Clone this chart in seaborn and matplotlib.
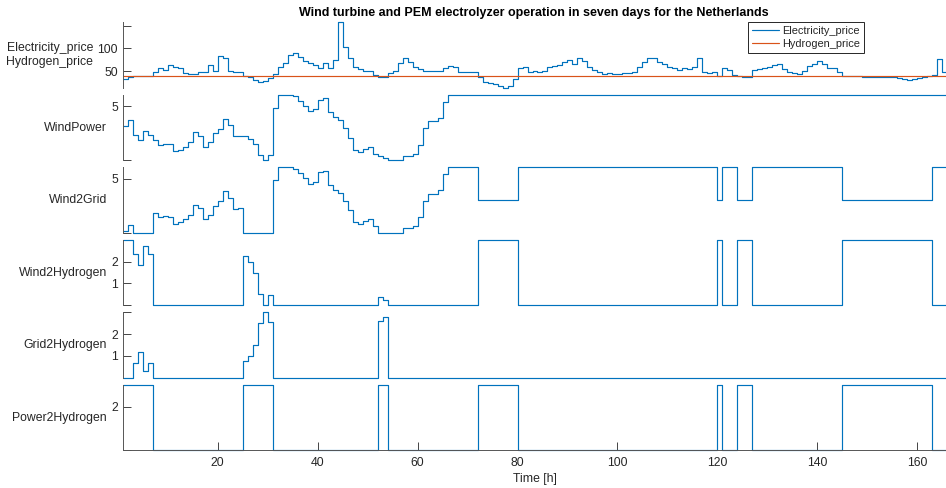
import seaborn as sns
import matplotlib.pyplot as plt
import pandas as pd

hours = list(range(1, 167))

electricity_price = [31.6, 36.7, 38.9, 38.9, 38.9, 38.9, 48.5, 55.9, 52.2, 63.2,
                     58.1, 55.9, 44.8, 43.4, 43.4, 48.5, 48.5, 63.2, 50.0, 83.8,
                     79.4, 50.0, 48.5, 48.5, 39.0, 36.0, 30.1, 26.4, 27.9, 35.3,
                     42.6, 59.5, 68.4, 85.3, 88.9, 81.6, 72.0, 68.4, 63.2, 55.9,
                     66.9, 55.9, 74.2, 157.3, 102.2, 79.4, 59.5, 53.6, 50.0, 50.0,
                     41.1, 37.5, 37.5, 44.8, 50.0, 68.4, 79.4, 70.6, 58.1, 53.6,
                     50.0, 50.0, 50.0, 50.0, 55.9, 61.7, 59.5, 48.5, 47.0, 47.0,
                     47.0, 36.0, 26.4, 22.8, 20.6, 16.9, 13.2, 17.6, 33.0, 55.9,
                     59.5, 48.5, 50.0, 47.0, 50.0, 59.5, 61.7, 63.2, 69.1, 74.2,
                     64.7, 77.9, 72.0, 58.1, 52.2, 47.0, 42.6, 44.8, 43.4, 42.6,
                     44.8, 44.8, 48.5, 59.5, 70.6, 79.4, 77.9, 70.6, 64.7, 59.5,
                     55.9, 52.2, 55.9, 54.4, 58.1, 77.9, 48.5, 46.3, 48.5, 38.5,
                     57.3, 52.2, 41.1, 38.5, 37.5, 37.5, 52.2, 54.4, 55.9, 59.5,
                     63.2, 64.7, 54.4, 48.5, 44.8, 42.6, 50.0, 61.7, 64.7, 72.8,
                     64.7, 57.3, 57.3, 48.5, 38.3, 38.3, 38.3, 38.3, 37.5, 37.5,
                     37.5, 37.5, 37.5, 37.5, 37.5, 35.3, 32.3, 29.4, 31.6, 35.3,
                     37.5, 38.5, 40.5, 75.7, 48.5, 48.5]
hydrogen_price = [39.7] * 166

wind_power = [3.13, 3.68, 2.33, 1.84, 2.70, 2.33, 1.84, 1.44, 1.53, 1.47,
              0.83, 0.98, 1.23, 1.69, 2.61, 2.27, 1.23, 1.69, 2.52, 2.91,
              3.83, 3.22, 2.21, 2.27, 2.24, 2.00, 1.50, 0.50, 0.00, 0.46,
              4.85, 6.05, 6.05, 6.05, 5.92, 5.52, 5.06, 4.54, 4.72, 5.61,
              5.73, 4.45, 3.99, 3.68, 2.98, 2.06, 0.98, 0.77, 1.07, 1.23,
              0.61, 0.40, 0.22, 0.00, 0.00, 0.00, 0.40, 0.40, 0.61, 1.44,
              2.98, 3.59, 3.59, 3.93, 5.43] + [6.05] * 101

wind2grid = [0.13, 0.68, 0.0, 0.0, 0.0, 0.0, 1.84, 1.44, 1.53, 1.47,
             0.83, 0.98, 1.23, 1.69, 2.61, 2.27, 1.23, 1.69, 2.52, 2.91,
             3.83, 3.22, 2.21, 2.27, 0.0, 0.0, 0.0, 0.0, 0.0, 0.0,
             4.85, 6.05, 6.05, 6.05, 5.92, 5.52, 5.06, 4.54, 4.72, 5.61,
             5.73, 4.45, 3.99, 3.68, 2.98, 2.06, 0.98, 0.77, 1.07, 1.23,
             0.61, 0.0, 0.0, 0.0, 0.0, 0.0, 0.40, 0.40, 0.61, 1.44,
             2.98, 3.59, 3.59, 3.93, 5.43, 6.05, 6.05, 6.05, 6.05, 6.05,
             6.05] + [3.05] * 8 + [6.05] * 40 + [3.05] + [6.05] * 3 + [3.05] * 3 \
            + [6.05] * 18 + [3.05] * 18 + [6.05] * 4

wind2hydrogen = [3.0, 3.0, 2.33, 1.84, 2.70, 2.33] + [0.0] * 18 \
                + [2.24, 2.00, 1.50, 0.50, 0.00, 0.46] + [0.0] * 21 + [0.40, 0.22] \
                + [0.0] * 18 + [3.0] * 8 + [0.0] * 40 + [3.0] + [0.0] * 3 + [3.0] * 3 \
                + [0.0] * 18 + [3.0] * 18 + [0.0] * 4

grid2hydrogen = [0.0, 0.0, 0.67, 1.16, 0.30, 0.67] + [0.0] * 18 \
                + [0.76, 1.00, 1.50, 2.50, 3.00, 2.54] + [0.0] * 21 + [2.60, 2.78] \
                + [0.0] * 113

power2hydrogen = [3.0] * 6 + [0.0] * 18 + [3.0] * 6 + [0.0] * 21 + [3.0] * 2 \
                 + [0.0] * 18 + [3.0] * 8 + [0.0] * 40 + [3.0] + [0.0] * 3 + [3.0] * 3 \
                 + [0.0] * 18 + [3.0] * 18 + [0.0] * 4

df = pd.DataFrame({"hour": hours, "Electricity_price": electricity_price,
                   "Hydrogen_price": hydrogen_price, "WindPower": wind_power,
                   "Wind2Grid": wind2grid, "Wind2Hydrogen": wind2hydrogen,
                   "Grid2Hydrogen": grid2hydrogen, "Power2Hydrogen": power2hydrogen})

blue = "#0072BD"
red = "#D95319"
dark = "#262626"

sns.set_style("ticks")
plt.rcParams["font.family"] = ["Liberation Sans", "DejaVu Sans"]
plt.rcParams["font.size"] = 8.8

fig = plt.figure(figsize=(9.46, 4.88), dpi=100)
W, H = 946, 488
left = 122.7 / W
width = (947.3 - 122.7) / W
panel_h = 65.5
axes = []
for i in range(6):
    top = 22.3 + 72.5 * i
    axes.append(fig.add_axes([left, 1 - (top + panel_h) / H, width, panel_h / H]))

# (column, label, yticks, yticklabels)
panels = [
    ("Electricity_price", "Electricity_price\nHydrogen_price", [50, 100, 150], ["50", "100", ""]),
    ("WindPower", "WindPower", [0, 5], ["", "5"]),
    ("Wind2Grid", "Wind2Grid", [0, 5], ["", "5"]),
    ("Wind2Hydrogen", "Wind2Hydrogen", [0, 1, 2, 3], ["", "1", "2", ""]),
    ("Grid2Hydrogen", "Grid2Hydrogen", [0, 1, 2, 3], ["", "1", "2", ""]),
    ("Power2Hydrogen", "Power2Hydrogen", [0, 2, 3], ["", "2", ""]),
]

lw = 0.85
for ax, (col, label, yt, ytl) in zip(axes, panels):
    if col == "Electricity_price":
        sns.lineplot(data=df, x="hour", y=col, ax=ax, drawstyle="steps-post",
                     color=blue, linewidth=lw, label="Electricity_price", clip_on=False)
        sns.lineplot(data=df, x="hour", y="Hydrogen_price", ax=ax, drawstyle="steps-post",
                     color=red, linewidth=lw, label="Hydrogen_price", clip_on=False)
        ax.set_ylim(min(electricity_price), max(electricity_price))
        leg = ax.legend(loc="upper left", bbox_to_anchor=(747.7 / W, 1 - 21.7 / H),
                        bbox_transform=fig.transFigure, borderaxespad=0, fontsize=7.9,
                        frameon=True, fancybox=False, framealpha=1, handlelength=2.5,
                        handletextpad=0.3, labelspacing=0.3, borderpad=0.35)
        leg.get_frame().set_edgecolor(dark)
        leg.get_frame().set_linewidth(0.7)
    else:
        sns.lineplot(data=df, x="hour", y=col, ax=ax, drawstyle="steps-post",
                     color=blue, linewidth=lw, clip_on=False)
        ax.set_ylim(min(df[col]), max(df[col]))
    ax.set_xlim(1, 166)
    ax.set_yticks(yt)
    ax.set_yticklabels(ytl)
    ax.set_ylabel(label, rotation=0, ha="right", va="center", labelpad=3, color=dark)
    ax.tick_params(axis="y", direction="in", length=6, width=0.6, color=dark,
                   labelcolor=dark, pad=3.5)
    for s in ["top", "right", "bottom"]:
        ax.spines[s].set_visible(False)
    ax.spines["left"].set_color("#555555")
    ax.spines["left"].set_linewidth(0.7)
    ax.set_xticks([])
    ax.set_xlabel("")

ax = axes[-1]
ax.spines["bottom"].set_visible(True)
ax.spines["bottom"].set_color("#555555")
ax.spines["bottom"].set_linewidth(0.7)
ax.set_xticks([20, 40, 60, 80, 100, 120, 140, 160])
ax.tick_params(axis="x", direction="in", length=6, width=0.6, color=dark,
               labelcolor=dark, pad=5)
ax.set_xlabel("Time [h]", color=dark, labelpad=3)

fig.text(534 / W, 1 - 13 / H, "Wind turbine and PEM electrolyzer operation in seven days for the Netherlands",
         ha="center", va="center", fontsize=9.0, fontweight="bold", color="black")

plt.savefig("out.png", dpi=100)
plt.close()
